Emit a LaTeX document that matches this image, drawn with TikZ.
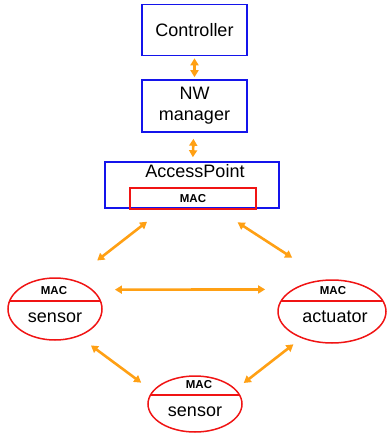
\documentclass[tikz,border=0pt]{standalone}
\usepackage{fontspec}
\setmainfont{Liberation Sans}
\usetikzlibrary{arrows.meta,shapes.geometric}
\definecolor{boxblue}{RGB}{20,20,235}
\definecolor{macred}{RGB}{240,20,20}
\definecolor{linkorange}{RGB}{255,160,20}
\tikzset{
	box/.style={draw=boxblue, line width=1.6pt, inner sep=0pt, font=\fontsize{18}{21}\selectfont, align=center},
	macbox/.style={draw=macred, line width=1.6pt, minimum width=126pt, minimum height=21pt, inner sep=0pt},
	dev/.style={ellipse, draw=macred, line width=1.5pt, inner sep=0pt,
		path picture={\draw[macred, line width=1.5pt] ([yshift=#1]path picture bounding box.west) -- ([yshift=#1]path picture bounding box.east);}},
	mactxt/.style={font=\bfseries\fontsize{11.5}{12}\selectfont},
	devtxt/.style={font=\fontsize{18}{21}\selectfont},
	link/.style={{Triangle[length=7pt,width=8pt]}-{Triangle[length=7pt,width=8pt]}, draw=linkorange, line width=2.6pt}
}
\begin{document}
\begin{tikzpicture}[x=1pt, y=-1pt]
	\useasboundingbox (0,0) rectangle (387,439);
	% upper chain
	\node[box, minimum width=105pt, minimum height=51pt] (ctrl) at (194.5,30) {Controller};
	\node[box, minimum width=105pt, minimum height=52pt] (nw) at (194.5,106) {NW\\manager};
	\node[box, minimum width=174pt, minimum height=46pt] (ap) at (192,185) {};
	\node[devtxt] (aptxt) at (195,171) {AccessPoint};
	\node[macbox] (apmac) at (193,198.5) {};
	\node[mactxt] at (apmac) {MAC};
	% devices
	\node[dev=8pt, minimum width=94pt, minimum height=62pt] (sl) at (55,309) {};
	\node[mactxt] (slmac) at (54,291) {MAC};
	\node[devtxt] (sltxt) at (55,318) {sensor};
	\node[dev=10.5pt, minimum width=108pt, minimum height=63pt] (act) at (332,311.5) {};
	\node[mactxt] (actmac) at (333,291) {MAC};
	\node[devtxt] (acttxt) at (335,317) {actuator};
	\node[dev=9pt, minimum width=94pt, minimum height=56pt] (sb) at (195,404) {};
	\node[mactxt] (sbmac) at (199,385) {MAC};
	\node[devtxt] (sbtxt) at (195,412) {sensor};
	% links
	\draw[link, shorten <=2pt, shorten >=2pt] (ctrl) -- (nw);
	\draw[link, shorten <=6pt, shorten >=4pt] (nw) -- (ap);
	\draw[link, shorten <=21pt, shorten >=31pt] (ap.220) -- (sl.59);
	\draw[link, shorten <=25pt, shorten >=40pt] (ap.316) -- (act.101);
	\draw[link, shorten <=22pt, shorten >=27pt] (sl.27) -- (act.151);
	\draw[link, shorten <=15pt, shorten >=14pt] (sl.311) -- (sb.163);
	\draw[link, shorten <=10pt, shorten >=10pt] (act.221) -- (sb.20);
\end{tikzpicture}
\end{document}
